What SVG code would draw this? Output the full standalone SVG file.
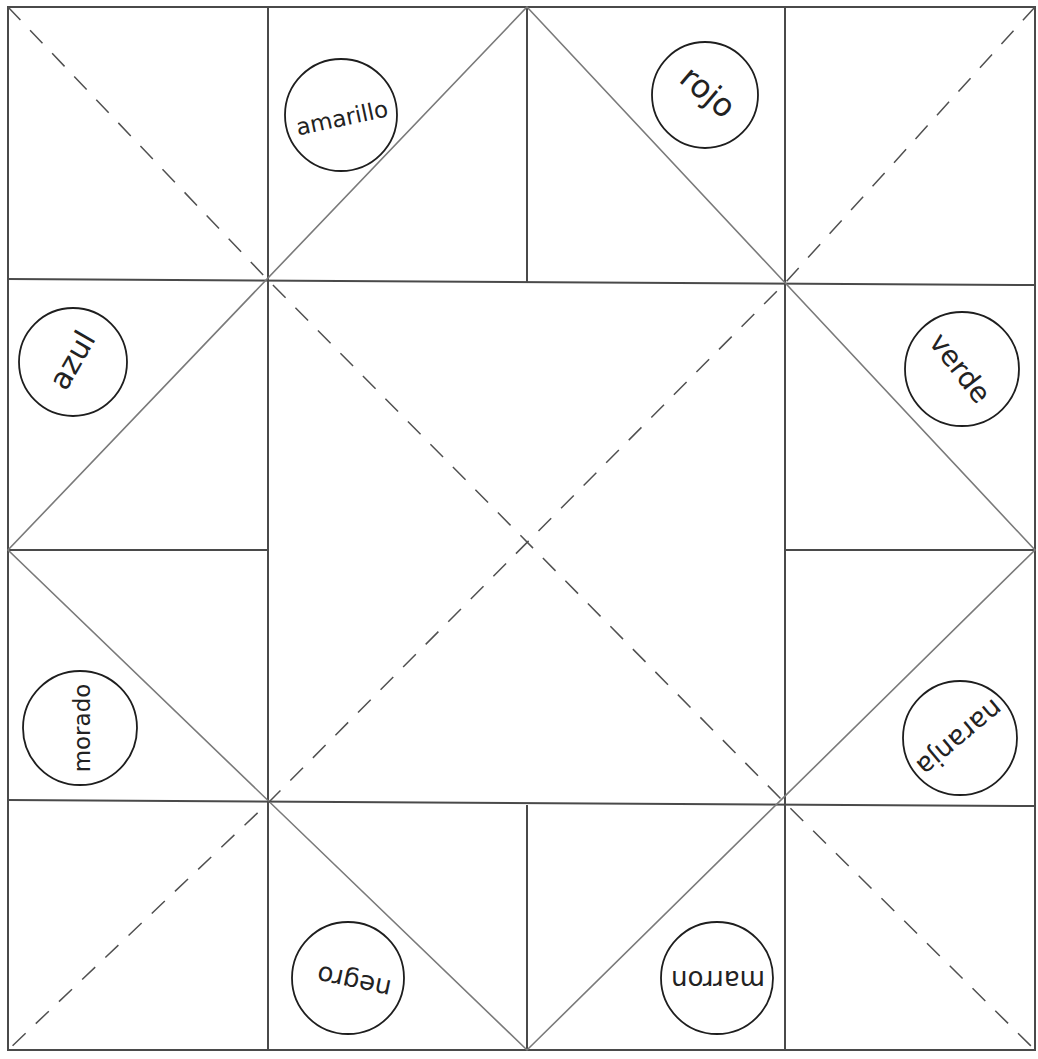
<svg xmlns="http://www.w3.org/2000/svg" width="1038" height="1059" viewBox="0 0 1038 1059">
<style>
.grid{stroke:#4a4a4a;stroke-width:2;fill:none}
.diag{stroke:#7a7a7a;stroke-width:1.6;fill:none}
.dash{stroke:#505050;stroke-width:1.5;fill:none;stroke-dasharray:18 14}
.c{stroke:#1e1e1e;stroke-width:1.8;fill:none}
.t{font-family:"DejaVu Sans","Liberation Sans",sans-serif;font-size:22px;fill:#222;text-anchor:middle;dominant-baseline:central}
</style>
<rect width="1038" height="1059" fill="#ffffff"/>
<g id="connectors">
<rect class="grid" x="8" y="7" width="1027" height="1043"/>
<line class="grid" x1="268" y1="7" x2="268" y2="1050"/>
<line class="grid" x1="785" y1="7" x2="785" y2="1050"/>
<line class="grid" x1="527" y1="7" x2="527" y2="283"/>
<line class="grid" x1="527" y1="805" x2="527" y2="1050"/>
<line class="grid" x1="8" y1="279" x2="1035" y2="285"/>
<line class="grid" x1="8" y1="550" x2="268" y2="550"/>
<line class="grid" x1="785" y1="550" x2="1035" y2="550"/>
<line class="grid" x1="8" y1="800" x2="1035" y2="806"/>
<polygon class="diag" points="527,7 1035,550 527,1050 8,550"/>
<polyline class="dash" points="8,7 268,280 785,803 1035,1050"/>
<polyline class="dash" points="1035,7 785,283 268,803 8,1050"/>
</g>
<g id="amarillo"><circle class="c" cx="341" cy="115" r="56"/><text class="t" x="342" y="118" transform="rotate(-12 342 118)" style="font-size:23px">amarillo</text></g>
<g id="rojo"><circle class="c" cx="705" cy="95" r="53"/><text class="t" x="708" y="92" transform="rotate(40 708 92)" style="font-size:32px">rojo</text></g>
<g id="azul"><circle class="c" cx="73" cy="362" r="54"/><text class="t" x="72" y="360" transform="rotate(-60 72 360)" style="font-size:30px">azul</text></g>
<g id="verde"><circle class="c" cx="962" cy="369" r="57"/><text class="t" x="960" y="368" transform="rotate(52 960 368)" style="font-size:28px">verde</text></g>
<g id="morado"><circle class="c" cx="80" cy="728" r="57"/><text class="t" x="82" y="728" transform="rotate(-90 82 728)" style="font-size:23px">morado</text></g>
<g id="naranja"><circle class="c" cx="960" cy="738" r="57"/><text class="t" x="960" y="738" transform="rotate(140 960 738)" style="font-size:27px">naranja</text></g>
<g id="negro"><circle class="c" cx="348" cy="978" r="56"/><text class="t" x="354" y="982" transform="rotate(192 354 982)" style="font-size:26px">negro</text></g>
<g id="marron"><circle class="c" cx="717" cy="978" r="56"/><text class="t" x="718" y="980" transform="rotate(180 718 980)" style="font-size:26px">marron</text></g>
</svg>
